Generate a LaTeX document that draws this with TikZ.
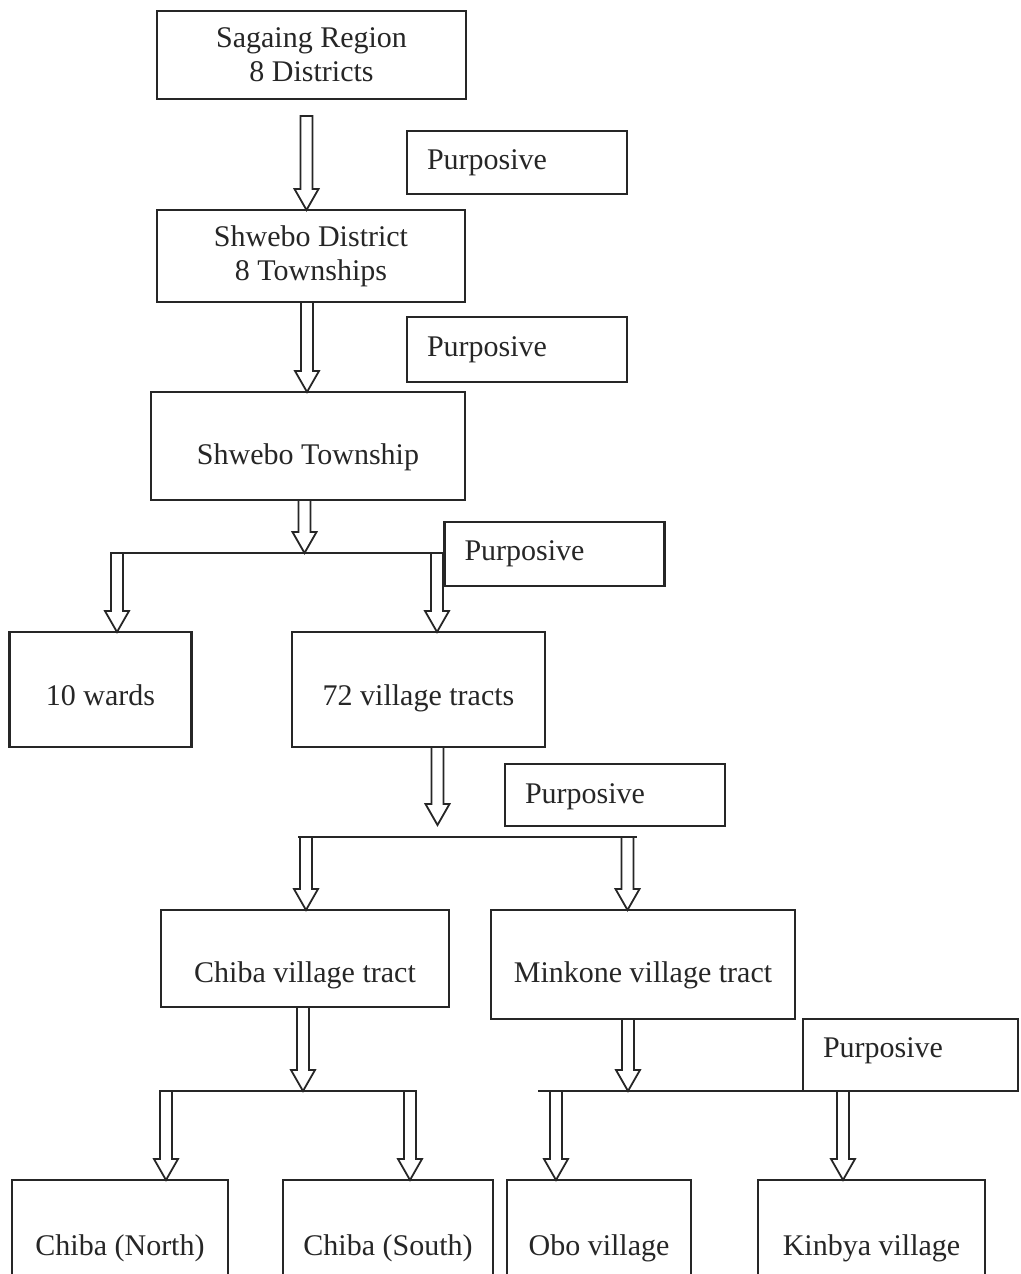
\documentclass[tikz,border=0pt]{standalone}
\usepackage{fontspec}
\setmainfont{Liberation Serif}
\usepackage{xcolor}
\usetikzlibrary{calc,positioning}

\tikzset{
  box/.style={draw=black!85,line width=1.1pt,rectangle,outer sep=0pt,inner sep=0pt,
    align=center,text=black!85,font=\fontsize{15pt}{17pt}\selectfont},
  purpbox/.style={box,text width=90pt,inner xsep=10pt,align=left},
  textdrop/.style={text depth=3.3pt,text height=#1},
  arrowline/.style={draw=black!85,line width=0.9pt,line join=miter},
  splitline/.style={draw=black!85,line width=1pt}
}
% hollow block arrow: x position, from, to
\newcommand{\hollowarrow}[3]{%
  \draw[arrowline] let \p0=(#1,0), \p1=(#2), \p2=(#3) in
    (\x0-3pt,\y1) -- (\x0-3pt,\y2+10.5pt) -- (\x0-6pt,\y2+10.5pt) -- (\x0,\y2)
    -- (\x0+6pt,\y2+10.5pt) -- (\x0+3pt,\y2+10.5pt) -- (\x0+3pt,\y1) -- cycle;}

\begin{document}
\begin{tikzpicture}[x=0.5pt,y=-0.5pt]
  \useasboundingbox (0,0) rectangle (1021,1274);
  % boxes
  \node[box,minimum width=154.5pt,minimum height=44pt] (region) at (311.5,55) {Sagaing Region\\8 Districts};
  \node[purpbox,minimum height=31.5pt] (purp1) at (517,162.5) {Purposive};
  \node[box,minimum width=154pt,minimum height=46pt] (district) at (311,256) {Shwebo District\\8 Townships};
  \node[purpbox,minimum height=32.5pt] (purp2) at (517,349.5) {Purposive};
  \node[box,textdrop=21.3pt,minimum width=157pt,minimum height=54pt] (township) at (308,446) {Shwebo Township};
  \node[purpbox,minimum height=32pt] (purp3) at (554.5,554) {Purposive};
  \node[box,textdrop=18.8pt,minimum width=91pt,minimum height=57.5pt] (wards) at (100.5,689.5) {10 wards};
  \node[box,textdrop=18.8pt,minimum width=126.5pt,minimum height=57.5pt] (tracts) at (418.5,689.5) {72 village tracts};
  \node[purpbox,textdrop=11.3pt,minimum height=31pt] (purp4) at (615,795) {Purposive};
  \node[box,textdrop=26.8pt,minimum width=144pt,minimum height=48.5pt] (chiba) at (305,958.5) {Chiba village tract};
  \node[box,textdrop=20.8pt,minimum width=152pt,minimum height=54.5pt] (minkone) at (643,964.5) {Minkone village tract};
  \node[purpbox,textdrop=5.3pt,text width=87.5pt,minimum height=36pt] (purp5) at (910.5,1055) {Purposive};
  \node[box,textdrop=13.3pt,minimum width=108pt,minimum height=65pt] (north) at (120,1245) {Chiba (North)};
  \node[box,textdrop=13.3pt,minimum width=105pt,minimum height=65pt] (south) at (388,1245) {Chiba (South)};
  \node[box,textdrop=13.3pt,minimum width=92pt,minimum height=65pt] (obo) at (599,1245) {Obo village};
  \node[box,textdrop=13.3pt,minimum width=113.5pt,minimum height=65pt] (kinbya) at (871.5,1245) {Kinbya village};

  % split points
  \coordinate (regiongap) at (306.5,116);
  \coordinate (tractsgap) at (437.5,825);
  \coordinate (split1w) at (112,553);
  \coordinate (split1e) at (442,553);
  \coordinate (split2w) at (298,837);
  \coordinate (split2e) at (637,837);
  \coordinate (split3w) at (159,1091);
  \coordinate (split3e) at (415,1091);
  \coordinate (split4w) at (538,1091);
  \draw[splitline] (split1w) -- (split1e);
  \draw[splitline] (split2w) -- (split2e);
  \draw[splitline] (split3w) -- (split3e);
  \draw[splitline] (split4w) -- (purp5.south west);

  % arrows
  \hollowarrow{306.5}{regiongap}{district.north}
  \hollowarrow{307}{district.south}{township.north}
  \hollowarrow{304.5}{township.south}{split1w}
  \hollowarrow{117}{split1w}{wards.north}
  \hollowarrow{437}{split1e}{tracts.north}
  \hollowarrow{437.5}{tracts.south}{tractsgap}
  \hollowarrow{306}{split2w}{chiba.north}
  \hollowarrow{627.5}{split2e}{minkone.north}
  \hollowarrow{303}{chiba.south}{split3w}
  \hollowarrow{166}{split3w}{north.north}
  \hollowarrow{410}{split3e}{south.north}
  \hollowarrow{628}{minkone.south}{split4w}
  \hollowarrow{556}{split4w}{obo.north}
  \hollowarrow{843}{split4w}{kinbya.north}
\end{tikzpicture}
\end{document}
